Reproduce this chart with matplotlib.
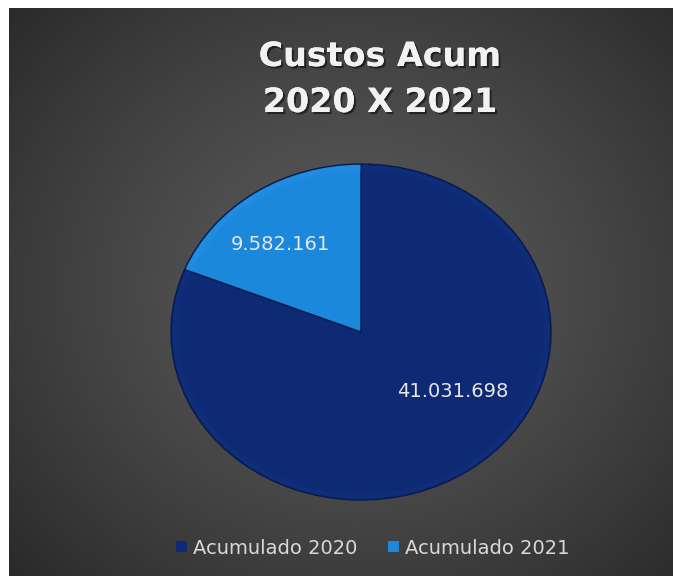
import numpy as np
import matplotlib
matplotlib.use('Agg')
import matplotlib.pyplot as plt
import matplotlib.patheffects as pe
from matplotlib.colors import to_rgb

# data
categorias = ['Acumulado 2020', 'Acumulado 2021']
valores = [41031698, 9582161]
rotulos = ['41.031.698', '9.582.161']
cores = ['#0e2a74', '#1b88dc']
cores_borda = ['#1b3c90', '#3a9ff0']

titulo = ['Custos Acum', '2020 X 2021']

W, H = 673, 576
fig = plt.figure(figsize=(W / 100, H / 100), dpi=100, facecolor='white')

# dark background with a soft radial gradient (white strip left and top)
bg = fig.add_axes([9 / W, 0, (W - 9) / W, (H - 8) / H])
bw, bh = W - 9, H - 8
yy, xx = np.mgrid[0:bh, 0:bw]
d = np.sqrt((xx - 345) ** 2 + ((yy - 280) * 1.1) ** 2) / 480
d = np.clip(d, 0, 1) ** 1.3
c0, c1 = np.array(to_rgb('#5a5a5a')), np.array(to_rgb('#282828'))
img = c0[None, None, :] * (1 - d[..., None]) + c1[None, None, :] * d[..., None]
bg.imshow(img, aspect='auto', interpolation='bilinear')
bg.axis('off')

# pie (slightly stretched horizontally, like the screenshot)
cx, cy, rx, ry = 361, 332, 190, 168
ax = fig.add_axes([(cx - rx) / W, (H - cy - ry) / H, 2 * rx / W, 2 * ry / H])
wedges, _ = ax.pie(valores, colors=cores, startangle=90, counterclock=False,
                   wedgeprops=dict(edgecolor='#081a4c', linewidth=1.0))
# soft bevel near the rim: a few thin rings fading out inward
for i, a in enumerate([0.25, 0.18, 0.11, 0.05]):
    ax.pie(valores, colors=cores_borda, startangle=90, counterclock=False,
           radius=0.99 - i * 0.012, wedgeprops=dict(width=0.012, linewidth=0, alpha=a))
ax.set_aspect('auto')
ax.set_xlim(-1, 1)
ax.set_ylim(-1, 1)
ax.axis('off')

# data labels
pos_rotulos = [(0.484, -0.357), (-0.426, 0.518)]
for txt, (x, y) in zip(rotulos, pos_rotulos):
    ax.text(x, y, txt, ha='center', va='center', fontsize=14,
            color='#e6e6e6', family='DejaVu Sans')

# title
sombra = [pe.withSimplePatchShadow(offset=(1.5, -1.5), shadow_rgbFace='black', alpha=0.5),
          pe.Normal()]
fig.text(380 / W, 1 - 66 / H, titulo[0], ha='center', va='baseline', fontsize=24,
         fontweight='bold', color='#f2f2f2', path_effects=sombra)
fig.text(380 / W, 1 - 112 / H, titulo[1], ha='center', va='baseline', fontsize=24,
         fontweight='bold', color='#f2f2f2', path_effects=sombra)

# legend
leg = fig.legend(wedges, categorias, loc='center', bbox_to_anchor=(373 / W, 1 - 548 / H),
                 ncol=2, frameon=False, fontsize=14, labelcolor='#d9d9d9',
                 handlelength=0.55, handleheight=0.55, handletextpad=0.3,
                 columnspacing=1.6, borderpad=0)
for h in leg.legend_handles:
    h.set_linewidth(0)

fig.savefig('out.png', dpi=100, facecolor=fig.get_facecolor())
